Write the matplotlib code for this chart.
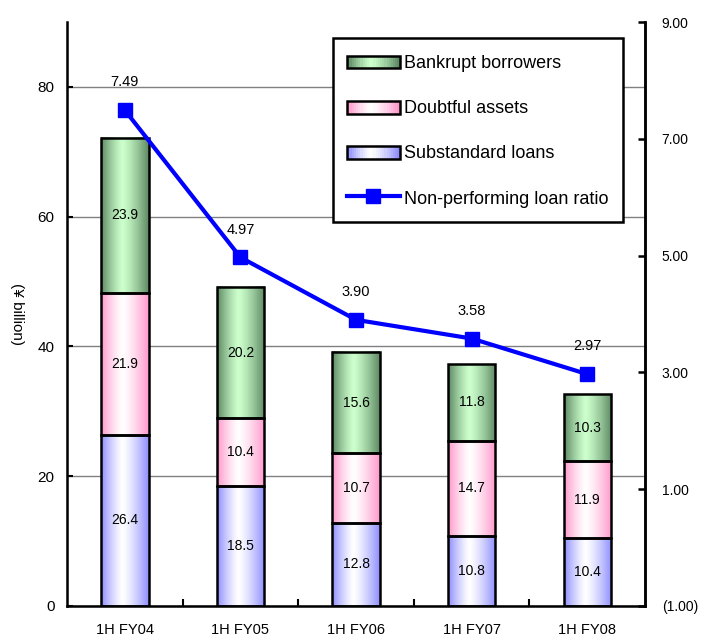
"""
Non-performing loans by category (stacked bars) with the NPL ratio on a secondary axis.
"""

import matplotlib
matplotlib.use("Agg")
import matplotlib.pyplot as plt
import numpy as np
from matplotlib.colors import to_rgb
from matplotlib.legend_handler import HandlerBase
from matplotlib.lines import Line2D
from matplotlib.patches import Patch, Rectangle

plt.rcParams["font.family"] = ["Liberation Sans", "DejaVu Sans"]

periods = ["1H FY04", "1H FY05", "1H FY06", "1H FY07", "1H FY08"]
substandard = [26.4, 18.5, 12.8, 10.8, 10.4]
doubtful = [21.9, 10.4, 10.7, 14.7, 11.9]
bankrupt = [23.9, 20.2, 15.6, 11.8, 10.3]
npl_ratio = [7.49, 4.97, 3.90, 3.58, 2.97]

# (edge colour, centre colour) for each gradient-filled series
shades = {
    "Substandard loans": ("#8f8fff", "#ffffff"),
    "Doubtful assets": ("#ff99cc", "#ffffff"),
    "Bankrupt borrowers": ("#5e8a64", "#ccffcc"),
}


def gradient_strip(edge, centre, n=64):
    """Horizontal gradient: edge colour at both sides, centre colour near the middle."""
    x = np.linspace(0, 1, n)
    peak = 0.45
    t = np.where(x < peak, (peak - x) / peak, (x - peak) / (1 - peak))
    t = np.clip(t, 0, 1) ** 1.3
    e, c = np.array(to_rgb(edge)), np.array(to_rgb(centre))
    return (c[None, :] + (e - c)[None, :] * t[:, None])[None, :, :]


class GradientHandler(HandlerBase):
    """Legend key drawn as a small gradient bar, vertically centred in its slot."""

    def __init__(self, edge, centre):
        super().__init__()
        self.edge, self.centre = edge, centre

    def create_artists(self, legend, orig_handle, xdescent, ydescent,
                       width, height, fontsize, trans):
        strip = gradient_strip(self.edge, self.centre, n=24)[0]
        ph = 0.7 * fontsize
        y0 = -ydescent + (height - ph) / 2
        artists = []
        w = width / len(strip)
        for i, col in enumerate(strip):
            artists.append(Rectangle((-xdescent + i * w, y0), w * 1.05, ph,
                                     facecolor=col, edgecolor="none", transform=trans))
        artists.append(Rectangle((-xdescent, y0), width, ph, facecolor="none",
                                 edgecolor="black", linewidth=1.8, transform=trans))
        return artists


fig = plt.figure(figsize=(7.01, 6.36), dpi=100)
ax = fig.add_axes([0.0956, 0.0472, 0.8246, 0.9182])
ax2 = ax.twinx()

x = np.arange(len(periods))
width = 0.41
bottoms = np.zeros(len(periods))
series = [("Substandard loans", substandard), ("Doubtful assets", doubtful),
          ("Bankrupt borrowers", bankrupt)]
for name, vals in series:
    edge, centre = shades[name]
    img = gradient_strip(edge, centre)
    for xi, b, v in zip(x, bottoms, vals):
        ax.imshow(img, extent=[xi - width / 2, xi + width / 2, b, b + v],
                  aspect="auto", interpolation="bilinear", zorder=2)
        ax.text(xi, b + v / 2, f"{v:.1f}", ha="center", va="center", fontsize=10, zorder=4)
    ax.bar(x, vals, width, bottom=bottoms, fill=False, edgecolor="black",
           linewidth=1.8, zorder=3)
    bottoms += np.array(vals)

ax.set_xlim(-0.5, len(periods) - 0.5)
ax.set_ylim(0, 90)
ax.set_yticks([0, 20, 40, 60, 80])
ax.yaxis.grid(True, color="#808080", linewidth=1)
ax.set_axisbelow(True)
ax.set_xticks(x)
ax.set_xticklabels(periods, fontsize=10.5)
ax.set_xticks(np.arange(0.5, len(periods) - 1, 1), minor=True)
ax.tick_params(axis="x", which="major", length=0, pad=12)
ax.tick_params(axis="x", which="minor", direction="in", length=5, width=1.5)
ax.tick_params(axis="y", direction="in", length=4, width=1.5, pad=9, labelsize=11)
ax.set_ylabel("(¥ billion)", rotation=270, fontsize=11)
ax.yaxis.set_label_coords(-0.098, 0.5)

for side in ["left", "right", "bottom"]:
    ax.spines[side].set_linewidth(1.8)
ax.spines["top"].set_visible(False)
ax2.spines["top"].set_visible(False)
ax2.spines["right"].set_linewidth(1.8)

ax2.plot(x, npl_ratio, color="#0000ff", linewidth=3, marker="s", markersize=10.5, zorder=5)
for xi, r in zip(x, npl_ratio):
    ax2.annotate(f"{r:.2f}", (xi, r), xytext=(0, 20), textcoords="offset points",
                 ha="center", va="center", fontsize=10.5)
ax2.set_ylim(-1, 9)
ax2.set_yticks([-1, 1, 3, 5, 7, 9])
ax2.set_yticklabels(["(1.00)", "1.00", "3.00", "5.00", "7.00", "9.00"])
ax2.tick_params(axis="y", direction="in", length=5, width=1.8, pad=12, labelsize=10)

handles = [Patch(label="Bankrupt borrowers"), Patch(label="Doubtful assets"),
           Patch(label="Substandard loans"),
           Line2D([], [], color="#0000ff", linewidth=3, marker="s", markersize=10,
                  label="Non-performing loan ratio")]
handler_map = {handles[0]: GradientHandler(*shades["Bankrupt borrowers"]),
               handles[1]: GradientHandler(*shades["Doubtful assets"]),
               handles[2]: GradientHandler(*shades["Substandard loans"])}
leg = ax2.legend(handles=handles, handler_map=handler_map, loc="upper right",
                 bbox_to_anchor=(0.962, 0.973), fontsize=13, frameon=True, fancybox=False,
                 edgecolor="black", framealpha=1, handlelength=2.9, handleheight=1.3,
                 handletextpad=0.25, labelspacing=1.4, borderpad=0.8, borderaxespad=0)
leg.get_frame().set_linewidth(1.8)

fig.savefig("out.png", dpi=100)
